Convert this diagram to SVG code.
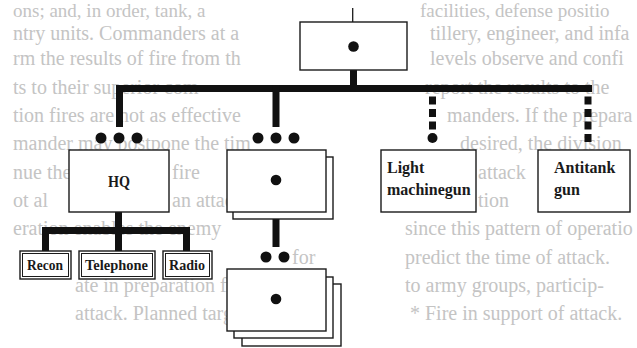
<svg xmlns="http://www.w3.org/2000/svg" width="637" height="348" viewBox="0 0 637 348">
<style>
.bg{font-family:"Liberation Serif","Times New Roman",serif;font-size:20px;fill:#c4c4c4}
.box{fill:#fff;stroke:#1a1a1a;stroke-width:1.4}
.inner{fill:none;stroke:#1a1a1a;stroke-width:1}
.lbl{font-family:"Liberation Serif","Times New Roman",serif;font-weight:bold;fill:#1a1a1a}
.bar{fill:#111}
.dash{stroke:#111;stroke-width:7;fill:none;stroke-dasharray:8 4.5;stroke-dashoffset:8}
.thin{stroke:#1a1a1a;stroke-width:1.3;fill:none}
.dot{fill:#111}
</style>
<rect width="637" height="348" fill="#fff"/>
<g id="page-text" class="bg">
<text x="420" y="17" font-size="19">facilities, defense positio</text>
<text x="13" y="17" font-size="19">ons; and, in order, tank, a</text>
<text x="430" y="40">tillery, engineer, and infa</text>
<text x="13" y="40">ntry units. Commanders at a</text>
<text x="430" y="65">levels observe and confi</text>
<text x="13" y="65">rm the results of fire from th</text>
<text x="425" y="94">report the results to the</text>
<text x="13" y="94">ts to their superior com</text>
<text x="447" y="122">manders. If the prepara</text>
<text x="13" y="122">tion fires are not as effective</text>
<text x="460" y="150">desired, the division</text>
<text x="13" y="150">mander may postpone the tim</text>
<text x="13" y="179">nue the</text>
<text x="172" y="179">fire</text>
<text x="478" y="179">attack</text>
<text x="13" y="207">ot al</text>
<text x="172" y="207">an attac</text>
<text x="478" y="207">tion</text>
<text x="405" y="235">since this pattern of operatio</text>
<text x="13" y="235">eration enables the enemy</text>
<text x="405" y="264">predict the time of attack.</text>
<text x="292" y="264">for</text>
<text x="405" y="292">to army groups, particip-</text>
<text x="75" y="292">ate in preparation fires.</text>
<text x="410" y="320">* Fire in support of attack.</text>
<text x="75" y="320">attack. Planned targets alon</text>
</g>
<g id="connectors">
<path class="thin" d="M352.7 8V22"/>
<rect class="bar" x="350" y="70" width="7" height="16"/>
<rect class="bar" x="116" y="85" width="476" height="7"/>
<rect class="bar" x="116" y="85" width="7" height="42"/>
<rect class="bar" x="272.5" y="85" width="7" height="42"/>
<path class="dash" d="M432.5 92V130"/>
<path class="dash" d="M588 92V142"/>
<rect class="bar" x="115" y="212" width="7" height="16"/>
<rect class="bar" x="42" y="227" width="148" height="7"/>
<rect class="bar" x="42" y="227" width="7" height="24"/>
<rect class="bar" x="115" y="227" width="7" height="24"/>
<rect class="bar" x="183" y="227" width="7" height="24"/>
<rect class="bar" x="272.5" y="219" width="7" height="28"/>
<circle class="dot" cx="101" cy="138" r="5.5"/>
<circle class="dot" cx="119" cy="138" r="5.5"/>
<circle class="dot" cx="137" cy="138" r="5.5"/>
<circle class="dot" cx="258" cy="138" r="5.5"/>
<circle class="dot" cx="276" cy="138" r="5.5"/>
<circle class="dot" cx="294" cy="138" r="5.5"/>
<circle class="dot" cx="432.5" cy="138" r="5"/>
<circle class="dot" cx="266" cy="257" r="5.5"/>
<circle class="dot" cx="284" cy="257" r="5.5"/>
</g>
<g id="top-unit">
<rect class="box" x="300" y="22" width="107" height="48"/>
<circle class="dot" cx="353.5" cy="46.5" r="5.3"/>
</g>
<g id="hq">
<rect class="box" x="69" y="150" width="100" height="62"/>
<text class="lbl" x="119" y="187" font-size="17" text-anchor="middle" textLength="22" lengthAdjust="spacingAndGlyphs">HQ</text>
</g>
<g id="mid-units">
<rect class="box" x="233" y="157" width="100" height="62"/>
<rect class="box" x="227" y="150" width="99" height="62"/>
<circle class="dot" cx="276" cy="180" r="5.3"/>
</g>
<g id="light-machinegun">
<rect class="box" x="381" y="150" width="95" height="62"/>
<text class="lbl" x="387" y="173" font-size="16">Light</text>
<text class="lbl" x="387" y="195" font-size="16">machinegun</text>
</g>
<g id="antitank-gun">
<rect class="box" x="538" y="150" width="92" height="62"/>
<text class="lbl" x="554" y="173" font-size="16">Antitank</text>
<text class="lbl" x="554" y="195" font-size="16">gun</text>
</g>
<g id="recon">
<rect class="box" x="20" y="251" width="51" height="28"/>
<rect class="inner" x="22.5" y="253.5" width="46" height="23"/>
<text class="lbl" x="27" y="270" font-size="15" textLength="36" lengthAdjust="spacingAndGlyphs">Recon</text>
</g>
<g id="telephone">
<rect class="box" x="79" y="251" width="76" height="28"/>
<rect class="inner" x="81.5" y="253.5" width="71" height="23"/>
<text class="lbl" x="85" y="270" font-size="15" textLength="63" lengthAdjust="spacingAndGlyphs">Telephone</text>
</g>
<g id="radio">
<rect class="box" x="163" y="251" width="49" height="28"/>
<rect class="inner" x="165.5" y="253.5" width="44" height="23"/>
<text class="lbl" x="169" y="270" font-size="15" textLength="36" lengthAdjust="spacingAndGlyphs">Radio</text>
</g>
<g id="bottom-units">
<rect class="box" x="242" y="284" width="99" height="62"/>
<rect class="box" x="234" y="277" width="99" height="61"/>
<rect class="box" x="227" y="269" width="99" height="62"/>
<circle class="dot" cx="276" cy="299" r="5.3"/>
</g>
</svg>
